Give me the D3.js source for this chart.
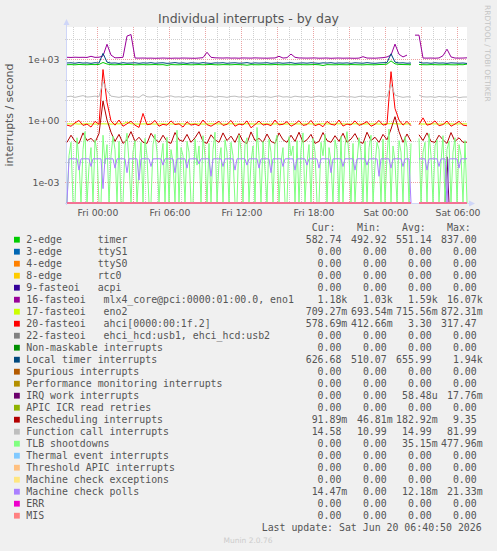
<!DOCTYPE html>
<html>
<head>
<meta charset="utf-8">
<script src="https://cdn.jsdelivr.net/npm/d3@7"></script>
<style>
  body { margin: 0; background: #f0f0f0; }
  svg { display: block; }
</style>
</head>
<body>
<svg id="graph" width="497" height="551"></svg>
<script>
// time window of the "by day" graph: 2000 minutes ending Sat 06:47
var startTime = new Date(2026, 5, 18, 21, 27, 30);
var spanMinutes = 2000;

// 20-minute samples (101 points), null = no data
var timer2edge = [
  545, 552, 538, 560, 548, 541, 556, 550, 562, 700,
  590, 548, 540, 553, 546, 560, 558, 537, 544, 551,
  539, 547, 555, 542, 549, 505, 552, 544, 540, 557,
  548, 538, 546, 553, 541, 549, 560, 543, 537, 551,
  546, 540, 555, 548, 542, 515, 550, 544, 539, 553,
  547, 541, 556, 545, 538, 550, 543, 537, 552, 546,
  540, 548, 555, 542, 498, 549, 544, 538, 551, 545,
  540, 553, 547, 541, 536, 550, 544, 539, 556, 560,
  580, 837, 600, 562, 555, 548, 545, null, 558, 545,
  540, 552, 547, 538, 544, 550, 541, 536, 548, 543,
  583
];
var mlx4 = [
  1250, 1230, 1260, 1240, 1250, 1230, 1400, 1240, 1260, 1450,
  5400, 1600, 1180, 1200, 1250, 13500, 16070, 1150, 1140, 1150,
  1130, 1140, 1120, 1130, 1150, 1130, 1120, 1140, 1130, 1150,
  1140, 1130, 1120, 1150, 1200, 2200, 1250, 1180, 1160, 1150,
  1170, 1140, 1150, 1130, 1160, 1150, 1140, 1170, 1150, 1140,
  1130, 1150, 1160, 1400, 1150, 1200, 1800, 1250, 1160, 1150,
  1140, 1150, 1160, 1130, 1140, 1150, 1120, 1140, 1150, 1130,
  1140, 1130, 1120, 1140, 1340, 1150, 1140, 1130, 1160, 1200,
  1300, 1600, 5500, 1750, 1300, 1600, null, 15000, 15000, 1150,
  1140, 1150, 1130, 1160, 1500, 3100, 1300, 1150, 1140, 1150,
  1180
];
var eno2 = [
  0.72, 0.71, 0.72, 0.70, 0.71, 0.72, 0.71, 0.70, 0.71, 0.72,
  0.71, 0.70, 0.71, 0.72, 0.71, 0.87, 0.72, 0.71, 0.70, 0.71,
  0.72, 0.71, 0.70, 0.71, 0.72, 0.71, 0.71, 0.70, 0.72, 0.71,
  0.70, 0.71, 0.72, 0.71, 0.70, 0.71, 0.72, 0.71, 0.71, 0.70,
  0.71, 0.72, 0.71, 0.70, 0.71, 0.72, 0.71, 0.70, 0.71, 0.72,
  0.71, 0.70, 0.71, 0.72, 0.71, 0.70, 0.72, 0.71, 0.71, 0.70,
  0.72, 0.71, 0.70, 0.71, 0.72, 0.71, 0.70, 0.71, 0.72, 0.71,
  0.70, 0.71, 0.72, 0.71, 0.70, 0.71, 0.71, 0.72, 0.70, 0.71,
  0.72, 0.73, 0.72, 0.71, 0.70, 0.71, 0.72, null, 0.71, 0.70,
  0.71, 0.72, 0.71, 0.70, 0.71, 0.72, 0.71, 0.70, 0.71, 0.72,
  0.709
];
var ahci = [
  0.62, 0.55, 0.8, 1.05, 0.6, 0.7, 0.5, 0.95, 0.68, 317,
  8, 1.0, 0.62, 1.1, 0.55, 0.72, 0.95, 0.62, 0.48, 2.3,
  0.65, 0.7, 1.05, 0.55, 0.68, 0.62, 1.0, 0.66, 0.72, 0.5,
  0.9, 0.62, 0.7, 0.58, 1.1, 0.66, 0.55, 0.72, 0.95, 0.6,
  0.68, 1.05, 0.55, 0.7, 0.64, 1.0, 0.46, 0.66, 0.98, 0.62,
  0.7, 0.58, 1.1, 0.64, 0.68, 0.92, 0.55, 0.7, 1.02, 0.6,
  0.66, 1.05, 0.58, 0.7, 0.52, 0.95, 0.68, 0.62, 1.1, 0.56,
  0.7, 0.64, 1.0, 0.6, 0.72, 0.92, 0.55, 0.68, 1.05, 0.62,
  0.7, 250, 4, 1.1, 0.62, 0.95, 0.58, null, 0.66, 1.4,
  0.62, 0.7, 1.0, 0.58, 0.66, 0.98, 0.55, 0.7, 0.95, 0.62,
  0.58
];
var localTimer = [
  660, 675, 642, 690, 654, 668, 635, 680, 658, 1940,
  730, 650, 665, 630, 682, 646, 660, 675, 638, 670,
  652, 685, 640, 663, 678, 634, 656, 690, 645, 668,
  632, 674, 658, 641, 686, 653, 630, 669, 660, 682,
  638, 664, 677, 645, 656, 689, 634, 670, 651, 662,
  680, 636, 659, 673, 642, 665, 685, 631, 654, 668,
  646, 678, 660, 635, 671, 656, 682, 640, 664, 650,
  669, 633, 675, 658, 644, 686, 652, 637, 665, 680,
  690, 1850, 730, 660, 675, 642, 658, null, 730, 654,
  668, 640, 676, 651, 663, 634, 672, 657, 645, 660,
  627
];
var rescheduling = [
  0.09, 0.2, 0.1, 0.08, 0.26, 0.11, 0.14, 0.09, 0.24, 9.35,
  1.1, 0.28, 0.1, 0.22, 0.08, 0.12, 0.3, 0.1, 0.16, 0.09,
  0.08, 0.25, 0.13, 0.09, 0.2, 0.1, 0.08, 0.27, 0.12, 0.1,
  0.22, 0.09, 0.15, 0.3, 0.1, 0.08, 0.21, 0.12, 0.09, 0.26,
  0.11, 0.18, 0.09, 0.24, 0.1, 0.08, 0.29, 0.11, 0.14, 0.09,
  0.23, 0.1, 0.08, 0.26, 0.12, 0.09, 0.2, 0.1, 0.28, 0.09,
  0.12, 0.22, 0.08, 0.1, 0.27, 0.11, 0.09, 0.19, 0.1, 0.25,
  0.09, 0.13, 0.24, 0.1, 0.08, 0.28, 0.11, 0.16, 0.09, 0.22,
  0.12, 0.4, 1.6, 0.3, 0.09, 0.23, 0.1, null, 0.21, 0.11,
  0.26, 0.1, 0.09, 0.2, 0.12, 0.08, 0.27, 0.1, 0.15, 0.09,
  0.092
];
var functionCall = [
  15, 16, 14, 15.5, 17, 14.5, 15, 16, 15, 82,
  30, 16, 15, 14, 15.5, 16, 14.5, 15, 14, 19,
  15, 14.5, 16, 15, 14, 15.5, 16.5, 14.5, 15, 14,
  15.5, 14, 16, 15, 14.5, 15, 16, 14, 15.5, 15,
  14, 15.5, 16, 14.5, 15, 14, 15.5, 16, 14.5, 15,
  15, 14, 15.5, 16.5, 14.5, 15, 14, 16, 15, 14.5,
  15.5, 14, 15, 16, 14.5, 15, 15.5, 14, 15, 16,
  14.5, 15, 14, 15.5, 16, 14.5, 15, 14, 15.5, 15,
  14.5, 60, 18, 15.5, 14, 15, 14.5, null, 18, 15,
  14.5, 15, 14, 15.5, 14.5, 15, 14, 15.5, 13.5, 14.5,
  14.58
];
var flatZero = [
  0, 0, 0, 0, 0, 0, 0, 0, 0, 0,
  0, 0, 0, 0, 0, 0, 0, 0, 0, 0,
  0, 0, 0, 0, 0, 0, 0, 0, 0, 0,
  0, 0, 0, 0, 0, 0, 0, 0, 0, 0,
  0, 0, 0, 0, 0, 0, 0, 0, 0, 0,
  0, 0, 0, 0, 0, 0, 0, 0, 0, 0,
  0, 0, 0, 0, 0, 0, 0, 0, 0, 0,
  0, 0, 0, 0, 0, 0, 0, 0, 0, 0,
  0, 0, 0, 0, 0, 0, 0, null, 0, 0,
  0, 0, 0, 0, 0, 0, 0, 0, 0, 0,
  0
];
// 10-minute samples (201 points)
var tlbShootdowns = [
  0, 0.02, 0.09, 0, 0, 0.15, 0.01, 0, 0.04, 0.3,
  0, 0.006, 0.05, 0, 0.12, 0.03, 0, 0, 0.2, 0.008,
  0.07, 0, 0.02, 0.18, 0.04, 0, 0.1, 0, 0, 0.06,
  0.25, 0.01, 0, 0.03, 0.11, 0, 0.005, 0.09, 0, 0.14,
  0.02, 0, 0, 0.07, 0.22, 0.03, 0, 0.012, 0.08, 0,
  0.16, 0, 0.04, 0.01, 0, 0.35, 0, 0.05, 0.02, 0,
  0.1, 0.03, 0, 0, 0.13, 0.007, 0.06, 0, 0.19, 0.02,
  0, 0.08, 0, 0.04, 0.28, 0, 0.01, 0.05, 0, 0.12,
  0.03, 0, 0.09, 0.02, 0, 0, 0.21, 0.04, 0, 0.07,
  0.15, 0, 0.01, 0.06, 0, 0.48, 0.02, 0, 0.1, 0.004,
  0, 0.13, 0.03, 0, 0.08, 0.2, 0, 0.01, 0.05, 0,
  0, 0.17, 0.02, 0.06, 0, 0.11, 0, 0.04, 0.26, 0,
  0.009, 0.07, 0, 0.14, 0.03, 0, 0, 0.09, 0.02, 0.22,
  0, 0.05, 0.01, 0, 0.12, 0.04, 0, 0.18, 0, 0.06,
  0.3, 0.02, 0, 0.08, 0, 0.01, 0.15, 0.03, 0, 0.1,
  0, 0.05, 0.2, 0, 0.007, 0.09, 0.04, 0, 0.13, 0,
  0.02, 0.4, 0, 0.06, 0.01, 0, 0.11, 0.03, 0, 0.17,
  0.05, 0, 0.08, null, null, null, 0.14, 0, 0.03, 0.09,
  0, 0.24, 0.02, 0, 0.06, 0.12, 0, 0.01, 0.19, 0,
  0.04, 0.1, 0, 0.03, 0.15, 0, 0.07, 0.02, 0, 0.11,
  0
];
var mcePolls = [
  0, 0.0142, 0.0143, 0.0142, 0.0141, 0.0143, 0.004, 0.0142, 0.0141, 0.0143,
  0.0142, 0.0141, 0.006, 0.0143, 0.0142, 0.0141, 0.0143, 0.0142, 0.0005, 0.0141,
  0.0143, 0.0142, 0.0141, 0.0143, 0.005, 0.0142, 0.0141, 0.0143, 0.0142, 0.0141,
  0.003, 0.0143, 0.0142, 0.0141, 0.0143, 0.0142, 0.0013, 0.0141, 0.0143, 0.0142,
  0.0141, 0.0143, 0.006, 0.0142, 0.0141, 0.0143, 0.0142, 0.0141, 0.007, 0.0143,
  0.0142, 0.0141, 0.0143, 0.0142, 0.003, 0.0141, 0.0143, 0.0142, 0.0141, 0.0143,
  0.005, 0.0142, 0.0141, 0.0143, 0.0142, 0.0141, 0.008, 0.0143, 0.0142, 0.0141,
  0.0143, 0.0142, 0.002, 0.0141, 0.0143, 0.0142, 0.0141, 0.0143, 0.006, 0.0142,
  0.0141, 0.0143, 0.0142, 0.0141, 0.004, 0.0143, 0.0142, 0.0141, 0.0143, 0.0142,
  0.007, 0.0141, 0.0143, 0.0142, 0.0141, 0.0143, 0.005, 0.0142, 0.0141, 0.0143,
  0.0142, 0.0141, 0.003, 0.0143, 0.0142, 0.0141, 0.0143, 0.0142, 0.006, 0.0141,
  0.0143, 0.0142, 0.0141, 0.0143, 0.004, 0.0142, 0.0141, 0.0143, 0.0142, 0.0141,
  0.007, 0.0143, 0.0142, 0.0141, 0.0143, 0.0142, 0.005, 0.0141, 0.0143, 0.0142,
  0.0141, 0.0143, 0.003, 0.0142, 0.0141, 0.0143, 0.0142, 0.0141, 0.006, 0.0143,
  0.0142, 0.0141, 0.0143, 0.0142, 0.004, 0.0141, 0.0143, 0.0142, 0.0141, 0.0143,
  0.007, 0.0142, 0.0141, 0.0143, 0.0142, 0.0141, 0.002, 0.0143, 0.0142, 0.0141,
  0.0143, 0.0142, 0.005, 0.0141, 0.0143, 0.0142, 0.0141, 0.0143, 0.006, 0.0142,
  0.0141, 0.0143, 0, null, null, null, 0.0142, 0.0141, 0.0143, 0.0142,
  0.004, 0.0141, 0.0143, 0.0142, 0.0141, 0.0143, 0.006, 0.0142, 0.0141, 0.0143,
  0, 0.0142, 0.0141, 0.0143, 0.0142, 0.0141, 0.005, 0.0143, 0.0142, 0.0141,
  0.01447
];
var irqWork = [
  0, 0, 0, 0, 0, 0, 0, 0, 0, 0,
  0, 0, 0, 0, 0, 0, 0, 0, 0, 0,
  0, 0, 0, 0, 0, 0, 0, 0, 0, 0,
  0, 0, 0, 0, 0, 0, 0, 0, 0, 0,
  0, 0, 0, 0, 0, 0, 0, 0, 0, 0,
  0, 0, 0, 0, 0, 0, 0, 0, 0, 0,
  0, 0, 0, 0, 0, 0, 0, 0, 0, 0,
  0, 0, 0, 0, 0, 0, 0, 0, 0, 0,
  0, 0, 0, 0, 0, 0, 0, 0, 0, 0,
  0, 0, 0, 0, 0, 0, 0, 0, 0, 0,
  0, 0, 0, 0, 0, 0, 0, 0, 0, 0,
  0, 0, 0, 0, 0, 0, 0, 0, 0, 0,
  0, 0, 0, 0, 0, 0, 0, 0, 0, 0,
  0, 0, 0, 0, 0, 0, 0, 0, 0, 0,
  0, 0, 0, 0, 0, 0, 0, 0, 0, 0,
  0, 0, 0, 0, 0, 0, 0, 0, 0, 0,
  0, 0, 0, 0, 0, 0, 0, 0, 0, 0,
  0, 0, 0, null, null, null, 0, 0, 0, 0,
  0, 0, 0, 0, 0, 0, 0, 0, 0, 0,
  0.01776, 0, 0, 0, 0, 0, 0, 0, 0, 0,
  0
];

// legend rows, in drawing order
var legendNames = [
  "2-edge      timer",
  "3-edge      ttyS1",
  "4-edge      ttyS0",
  "8-edge      rtc0",
  "9-fasteoi   acpi",
  "16-fasteoi   mlx4_core@pci:0000:01:00.0, eno1",
  "17-fasteoi   eno2",
  "20-fasteoi   ahci[0000:00:1f.2]",
  "22-fasteoi   ehci_hcd:usb1, ehci_hcd:usb2",
  "Non-maskable interrupts",
  "Local timer interrupts",
  "Spurious interrupts",
  "Performance monitoring interrupts",
  "IRQ work interrupts",
  "APIC ICR read retries",
  "Rescheduling interrupts",
  "Function call interrupts",
  "TLB shootdowns",
  "Thermal event interrupts",
  "Threshold APIC interrupts",
  "Machine check exceptions",
  "Machine check polls",
  "ERR",
  "MIS"
];
var legendColors = [
  "#00CC00", "#0066B3", "#FF8000", "#FFCC00", "#330099", "#990099",
  "#CCFF00", "#FF0000", "#808080", "#008F00", "#00487D", "#B35A00",
  "#B38F00", "#6B006B", "#8FB300", "#B30000", "#BEBEBE", "#80FF80",
  "#80C9FF", "#FFC080", "#FFE680", "#AA80FF", "#EE00CC", "#FF8080"
];
var seriesData = [
  timer2edge, flatZero, flatZero, flatZero, flatZero, mlx4,
  eno2, ahci, flatZero, flatZero, localTimer, flatZero,
  flatZero, irqWork, flatZero, rescheduling, functionCall, tlbShootdowns,
  flatZero, flatZero, flatZero, mcePolls, flatZero, flatZero
];
var statCur = [582.74, 0, 0, 0, 0, 1180, 0.70927, 0.57869, 0, 0, 626.68, 0,
  0, 0, 0, 0.09189, 14.58, 0, 0, 0, 0, 0.01447, 0, 0];
var statMin = [492.92, 0, 0, 0, 0, 1030, 0.69354, 0.41266, 0, 0, 510.07, 0,
  0, 0, 0, 0.04681, 10.99, 0, 0, 0, 0, 0, 0, 0];
var statAvg = [551.14, 0, 0, 0, 0, 1590, 0.71556, 3.30, 0, 0, 655.99, 0,
  0, 0.00005848, 0, 0.18292, 14.99, 0.03515, 0, 0, 0, 0.01218, 0, 0];
var statMax = [837.00, 0, 0, 0, 0, 16070, 0.87231, 317.47, 0, 0, 1940, 0,
  0, 0.01776, 0, 9.35, 81.99, 0.47796, 0, 0, 0, 0.02133, 0, 0];

var yTickValues = [1e-3, 1, 1e3];
var yTickLabels = ["1e-03", "1e+00", "1e+03"];
var xTickTimes = [
  new Date(2026, 5, 19, 0), new Date(2026, 5, 19, 6), new Date(2026, 5, 19, 12),
  new Date(2026, 5, 19, 18), new Date(2026, 5, 20, 0), new Date(2026, 5, 20, 6)
];

var endTime = new Date(startTime.getTime() + spanMinutes * 60000);
var plotL = 67, plotR = 467, plotT = 27, plotB = 203;
var textColor = "#555";

var svg = d3.select("#graph");
svg.append("rect").attr("width", 497).attr("height", 551).attr("fill", "#f0f0f0");
svg.append("rect").attr("x", plotL).attr("y", plotT)
  .attr("width", plotR - plotL).attr("height", plotB - plotT).attr("fill", "#fff");

var x = d3.scaleTime().domain([startTime, endTime]).range([plotL, plotR]);
var y = d3.scaleLog().domain([1e-4, 37400]).range([plotB, plotT]);

// grid
var grid = svg.append("g").attr("stroke-width", 1).attr("stroke-dasharray", "1,1");
d3.timeHour.range(startTime, endTime).forEach(function(t) {
  var gx = Math.floor(x(t)) + 0.5;
  var major = t.getHours() % 3 === 0;
  grid.append("line").attr("x1", gx).attr("x2", gx).attr("y1", plotT).attr("y2", plotB + 2)
    .attr("stroke", major ? "#eba3a3" : "#cfcfcf");
});
d3.range(-3, 5).forEach(function(p) {
  var gy = Math.round(y(Math.pow(10, p))) + 0.5;
  var major = p % 3 === 0;
  grid.append("line").attr("x1", plotL - 2).attr("x2", plotR).attr("y1", gy).attr("y2", gy)
    .attr("stroke", major ? "#eba3a3" : "#cfcfcf");
});

// axes lines and arrows
var axisColor = "#CFD6F8";
svg.append("line").attr("x1", plotL - 2).attr("x2", plotR + 3).attr("y1", plotB + 0.5).attr("y2", plotB + 0.5)
  .attr("stroke", axisColor);
svg.append("line").attr("x1", plotL - 0.5).attr("x2", plotL - 0.5).attr("y1", plotB + 2).attr("y2", plotT - 3)
  .attr("stroke", axisColor);
svg.append("path").attr("d", "M" + (plotR + 2) + "," + (plotB - 2.5) + "L" + (plotR + 8) + "," + (plotB + 0.5) +
  "L" + (plotR + 2) + "," + (plotB + 3.5) + "Z").attr("fill", axisColor);
svg.append("path").attr("d", "M" + (plotL - 3.5) + "," + (plotT - 2) + "L" + (plotL - 0.5) + "," + (plotT - 8) +
  "L" + (plotL + 2.5) + "," + (plotT - 2) + "Z").attr("fill", axisColor);

// series
var line = d3.line()
  .defined(function(d) { return d.v !== null; })
  .x(function(d) { return x(d.t); })
  .y(function(d) { return d.v > 1e-4 ? Math.max(y(d.v), plotT) : plotB; });

seriesData.forEach(function(arr, k) {
  var stepMs = spanMinutes * 60000 / (arr.length - 1);
  var pts = arr.map(function(v, i) {
    return { t: new Date(startTime.getTime() + i * stepMs), v: v };
  });
  svg.append("path").datum(pts)
    .attr("fill", "none")
    .attr("stroke", legendColors[k])
    .attr("stroke-width", 1)
    .attr("stroke-linejoin", "round")
    .attr("d", line);
});

// tick labels
var yAxis = svg.append("g").attr("transform", "translate(" + plotL + ",0)")
  .call(d3.axisLeft(y).tickValues(yTickValues)
    .tickFormat(function(d, i) { return yTickLabels[i]; })
    .tickSize(0).tickPadding(7.7));
var xAxis = svg.append("g").attr("transform", "translate(0," + plotB + ")")
  .call(d3.axisBottom(x).tickValues(xTickTimes)
    .tickFormat(d3.timeFormat("%a %H:%M"))
    .tickSize(0).tickPadding(6.1));
[yAxis, xAxis].forEach(function(g) {
  g.select(".domain").remove();
  g.attr("font-family", "DejaVu Sans").attr("font-size", 9.3);
  g.selectAll("text").attr("fill", textColor);
});

// titles
svg.append("text").attr("x", 248.5).attr("y", 23).attr("text-anchor", "middle")
  .attr("font-family", "DejaVu Sans").attr("font-size", 12.5).attr("fill", textColor)
  .text("Individual interrupts - by day");
svg.append("text").attr("transform", "translate(13,115) rotate(-90)").attr("text-anchor", "middle")
  .attr("font-family", "DejaVu Sans").attr("font-size", 10.9).attr("fill", textColor)
  .text("interrupts / second");
svg.append("text").attr("transform", "translate(484.5,5) rotate(90)")
  .attr("font-family", "DejaVu Sans").attr("font-size", 7.5).attr("fill", "#c4c4c4")
  .text("RRDTOOL / TOBI OETIKER");

// legend (monospace, spaces kept as no-break spaces)
function keepSpaces(s) { return s.replace(/ /g, "\u00a0"); }
function fmtStat(v) {
  var s = " ", n = v;
  if (v !== 0) {
    if (Math.abs(v) >= 1000) { n = v / 1000; s = "k"; }
    else if (Math.abs(v) < 1e-3) { n = v * 1e6; s = "u"; }
    else if (Math.abs(v) < 1) { n = v * 1000; s = "m"; }
  }
  return n.toFixed(2).padStart(6) + s;
}
var colX = [305.7, 351, 396, 441];
var legend = svg.append("g").attr("font-family", "DejaVu Sans Mono").attr("font-size", 9.9)
  .attr("fill", textColor);
["Cur:", "Min:", "Avg:", "Max:"].forEach(function(h, c) {
  legend.append("text").attr("x", colX[c] + 6).attr("y", 231).text(h);
});
legendNames.forEach(function(name, k) {
  var by = 243 + 12 * k;
  legend.append("rect").attr("x", 14).attr("y", by - 6.2).attr("width", 5.8).attr("height", 5.8)
    .attr("fill", legendColors[k]);
  legend.append("text").attr("x", 26.3).attr("y", by).text(keepSpaces(name));
  [statCur, statMin, statAvg, statMax].forEach(function(col, c) {
    legend.append("text").attr("x", colX[c]).attr("y", by).text(keepSpaces(fmtStat(col[k])));
  });
});
legend.append("text").attr("x", 261.7).attr("y", 530.7)
  .text(keepSpaces("Last update: Sat Jun 20 06:40:50 2026"));

svg.append("text").attr("x", 248).attr("y", 543).attr("text-anchor", "middle")
  .attr("font-family", "DejaVu Sans").attr("font-size", 7.5).attr("fill", "#cccccc")
  .text("Munin 2.0.76");
</script>
</body>
</html>
